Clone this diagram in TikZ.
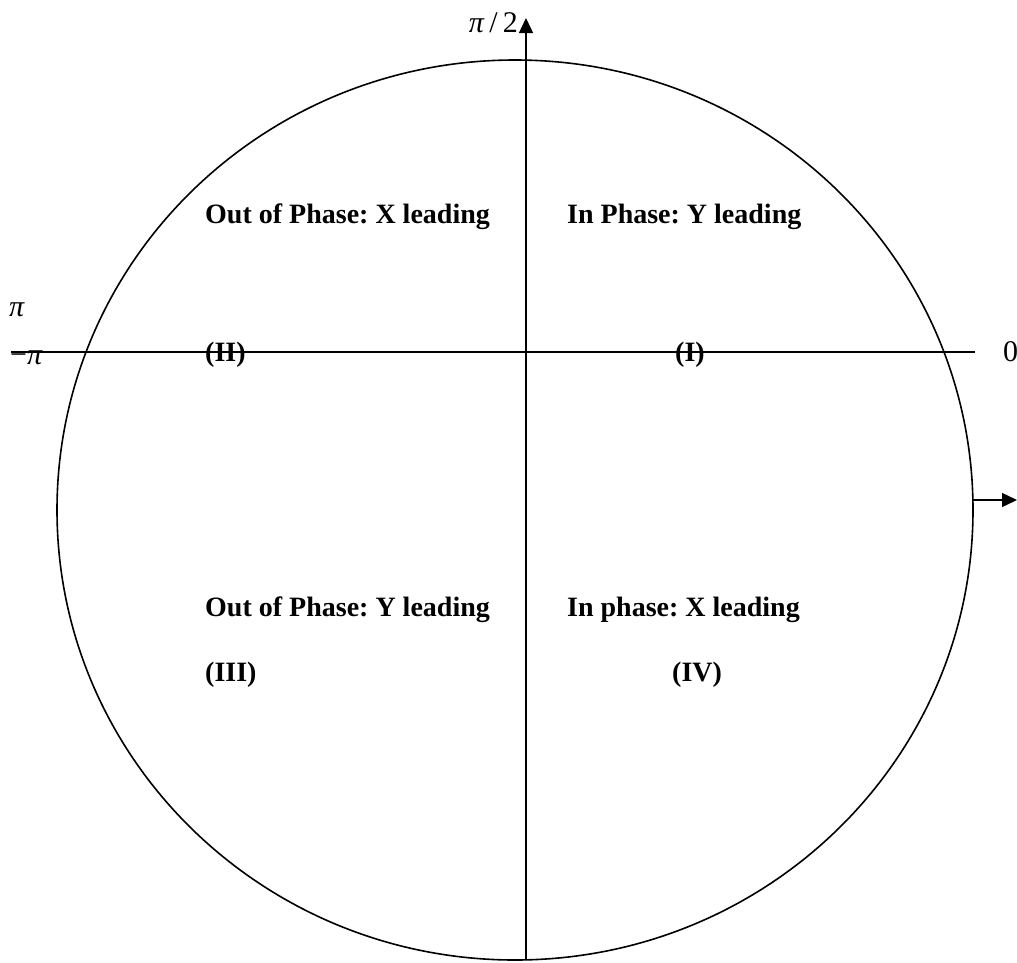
\documentclass[tikz,border=0pt]{standalone}
\usepackage{fontspec}
\setmainfont{Liberation Serif}
\frenchspacing
\usetikzlibrary{arrows.meta,positioning}

\tikzset{
  quad/.style={font=\bfseries\fontsize{28}{32}\selectfont, inner sep=0pt, anchor=base west},
  axislabel/.style={font=\fontsize{30}{34}\selectfont, inner sep=0pt},
  axis/.style={line width=1.4pt},
  tip/.style={-{Triangle[length=15pt,width=14pt]}}
}

\begin{document}
\begin{tikzpicture}[x=1pt,y=-1pt]
    \useasboundingbox (0,0) rectangle (1017,962);
    % circle
    \draw[line width=1.6pt] (515,510) ellipse [x radius=458pt, y radius=450pt];
    % axes
    \coordinate (west) at (11,352);
    \coordinate (east) at (975,352);
    \coordinate (south) at (526,960);
    \coordinate (north) at (526,18);
    \draw[axis] (west) -- (east);
    \draw[axis,tip] (south) -- (north);
    \coordinate (rim) at (973,500);
    \coordinate (out) at (1017,500);
    \draw[axis,tip] (rim) -- (out);
    % axis labels
    \node[axislabel,anchor=base east] (halfpi) at (518,32) {\textit{π}\,/\,2};
    \node[axislabel,anchor=base west] (pi) at (9,316) {\textit{π}};
    \node[axislabel,anchor=base west] (mpi) at (10,364) {−\textit{π}};
    \node[axislabel,anchor=base west] (zero) at (1003,361) {0};
    % quadrants
    \node[quad] (q2) at (205,223) {Out of Phase: X leading};
    \node[quad] (q1) at (567,223) {In Phase: Y leading};
    \node[quad] (n2) at (205,361) {(II)};
    \node[quad] (n1) at (675,361) {(I)};
    \node[quad] (q3) at (205,616) {Out of Phase: Y leading};
    \node[quad] (q4) at (567,616) {In phase: X leading};
    \node[quad] (n3) at (205,681) {(III)};
    \node[quad] (n4) at (672,681) {(IV)};
\end{tikzpicture}
\end{document}
